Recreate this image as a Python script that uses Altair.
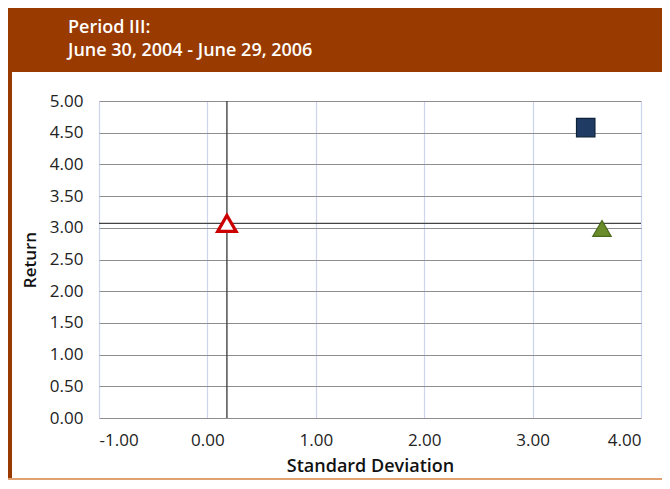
import altair as alt
import pandas as pd

# Data
series = ["Reference point", "Portfolio", "Benchmark"]
std_dev = [0.18, 3.49, 3.64]
returns = [3.07, 4.58, 2.99]
shapes = ["triangle-up", "square", "triangle-up"]
fills = ["#ffffff", "#1f3b63", "#6b8c2a"]
strokes = ["#cc0000", "#0d2238", "#4a6a1c"]
stroke_widths = [3.2, 1.2, 1.2]

cross_x = [0.18]
cross_y = [3.07]

x_ticks = [-1, 0, 1, 2, 3, 4]
y_ticks = [0, 0.5, 1, 1.5, 2, 2.5, 3, 3.5, 4, 4.5, 5]

title_lines = ["Period III:", "June 30, 2004 - June 29, 2006"]

FONT = "Open Sans"
BROWN = "#993a00"

df = pd.DataFrame({
    "series": series, "sd": std_dev, "ret": returns,
    "shape": shapes, "fill": fills, "stroke": strokes, "sw": stroke_widths,
})

xs = alt.Scale(domain=[-1, 4], nice=False)
ys = alt.Scale(domain=[0, 5], nice=False)

label_expr = "datum.value < 0 ? '-' + format(-datum.value, '.2f') : format(datum.value, '.2f')"

x_axis = alt.Axis(values=x_ticks, labelExpr=label_expr, title="Standard Deviation",
                  labelFontSize=17, labelColor="#222222", labelFont=FONT,
                  labelPadding=14, titleFont=FONT, titleFontSize=18,
                  titleFontWeight=600, titleColor="#111111", titlePadding=9,
                  ticks=False, domain=False, grid=True, gridColor="#cdd5ee",
                  gridWidth=1.2, labelOverlap=False)
y_axis = alt.Axis(values=y_ticks, labelExpr=label_expr, title="Return",
                  labelFontSize=17, labelColor="#222222", labelFont=FONT,
                  labelPadding=16, titleFont=FONT, titleFontSize=17,
                  titleFontWeight=600, titleColor="#111111", titlePadding=10,
                  ticks=False, domain=False, grid=True, gridColor="#8e8e8e",
                  gridWidth=1, labelOverlap=False)

base = alt.Chart(df)

grid_layer = base.mark_point(opacity=0).encode(
    x=alt.X("sd:Q", scale=xs, axis=x_axis),
    y=alt.Y("ret:Q", scale=ys, axis=y_axis),
)

vrule = alt.Chart(pd.DataFrame({"v": cross_x})).mark_rule(
    color="#444444", strokeWidth=1.4).encode(x=alt.X("v:Q", scale=xs, axis=x_axis))
hrule = alt.Chart(pd.DataFrame({"v": cross_y})).mark_rule(
    color="#444444", strokeWidth=1.4).encode(y=alt.Y("v:Q", scale=ys, axis=y_axis))

points = base.mark_point(filled=False, size=340, opacity=1).encode(
    x=alt.X("sd:Q", scale=xs, axis=x_axis),
    y=alt.Y("ret:Q", scale=ys, axis=y_axis),
    shape=alt.Shape("shape:N", scale=None),
    fill=alt.Fill("fill:N", scale=None),
    stroke=alt.Stroke("stroke:N", scale=None),
    strokeWidth=alt.StrokeWidth("sw:Q", scale=None),
)

dummy = pd.DataFrame({"a": [0]})
header = alt.Chart(dummy).mark_rect(color=BROWN).encode(
    x=alt.value(-91), x2=alt.value(563), y=alt.value(-93), y2=alt.value(-29))
left_strip = alt.Chart(dummy).mark_rule(color=BROWN, strokeWidth=4).encode(
    x=alt.value(-89), y=alt.value(-30), y2=alt.value(379))
bottom_line = alt.Chart(dummy).mark_rule(color="#e0a070", strokeWidth=2).encode(
    x=alt.value(-91), x2=alt.value(563), y=alt.value(378))

line1 = alt.Chart(pd.DataFrame({"t": [title_lines[0]]})).mark_text(
    color="white", font=FONT, fontSize=18, fontWeight=600,
    align="left", baseline="alphabetic").encode(
    x=alt.value(-31), y=alt.value(-68), text="t:N")
line2 = alt.Chart(pd.DataFrame({"t": [title_lines[1]]})).mark_text(
    color="white", font=FONT, fontSize=18, fontWeight=600,
    align="left", baseline="alphabetic").encode(
    x=alt.value(-31), y=alt.value(-45), text="t:N")

chart = alt.layer(
    grid_layer, vrule, hrule, points, header, left_strip, bottom_line, line1, line2
).properties(
    width=542, height=317,
    padding={"left": 91, "top": 93, "right": 21, "bottom": 63},
    autosize=alt.AutoSizeParams(type="none"),
    background="white",
).configure_view(stroke=None)

chart.save("out.html", embed_options={"renderer": "svg", "actions": False})
